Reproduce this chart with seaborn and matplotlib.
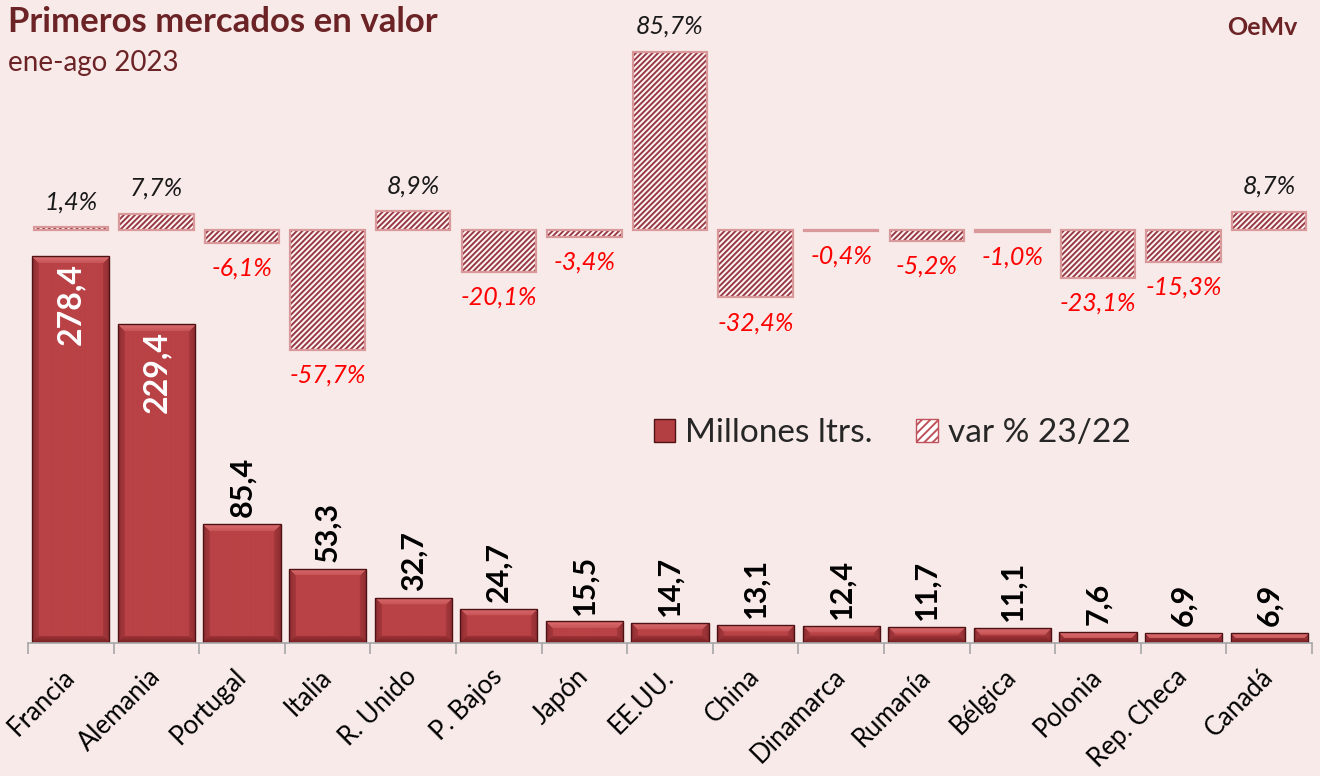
import numpy as np
import pandas as pd
import seaborn as sns
import matplotlib.pyplot as plt
from matplotlib.patches import Patch, Rectangle
from matplotlib.colors import to_rgb
from matplotlib.transforms import ScaledTranslation

paises = ["Francia", "Alemania", "Portugal", "Italia", "R. Unido", "P. Bajos", "Japón",
          "EE.UU.", "China", "Dinamarca", "Rumanía", "Bélgica", "Polonia", "Rep. Checa", "Canadá"]
millones = [278.4, 229.4, 85.4, 53.3, 32.7, 24.7, 15.5, 14.7, 13.1, 12.4, 11.7, 11.1, 7.6, 6.9, 6.9]
variacion = [1.4, 7.7, -6.1, -57.7, 8.9, -20.1, -3.4, 85.7, -32.4, -0.4, -5.2, -1.0, -23.1, -15.3, 8.7]

titulo = "Primeros mercados en valor"
subtitulo = "ene-ago 2023"
fuente = "OeMv"

BG = '#F8EAE9'
BAR = '#B43F43'
BAR_EDGE = '#4E1214'
HATCH = '#983844'
DARK = '#6B2326'


def fmt(v, pct=False):
    s = f"{v:.1f}".replace('.', ',')
    return s + '%' if pct else s


def bevel(wp, hp, b=7):
    # face colour with a lighter top bevel and darker sides/bottom
    face = np.array(to_rgb('#B94246'))
    cols = [to_rgb('#DA6C6E'), to_rgb('#7A2124'), to_rgb('#8E2D31'), to_rgb('#8E2D31')]
    yy, xx = np.mgrid[0:hp, 0:wp]
    d = np.stack([yy, hp - 1 - yy, xx, wp - 1 - xx])
    near = d.argmin(0)
    dmin = d.min(0)
    img = np.tile(face, (hp, wp, 1))
    for k, c in enumerate(cols):
        m = (near == k) & (dmin < b)
        f = (1 - dmin[m] / b)[:, None] * 0.6 + 0.4
        img[m] = face + (np.array(c) - face) * f
    return img


sns.set_theme(style="white")
plt.rcParams['font.family'] = ['Lato', 'DejaVu Sans']
plt.rcParams['hatch.linewidth'] = 1.4

df = pd.DataFrame({'pais': paises, 'millones': millones, 'var': variacion})

fig = plt.figure(figsize=(13.2, 7.76), dpi=100, facecolor=BG)
ax = fig.add_axes([28 / 1320, 133 / 776, 1284 / 1320, 603 / 776])
ax.set_facecolor('none')

# main bars (volume)
sns.barplot(data=df, x='pais', y='millones', color=BAR, width=0.9, saturation=1,
            edgecolor=BAR_EDGE, linewidth=1.0, ax=ax)
ax.set_xlim(-0.5, len(paises) - 0.5)
ax.set_ylim(0, 433.8)

# bevel shading drawn inside each bar
for p in list(ax.patches):
    x0, y0 = p.get_xy()
    x1, y1 = x0 + p.get_width(), y0 + p.get_height()
    (px0, py0), (px1, py1) = ax.transData.transform([(x0, y0), (x1, y1)])
    img = bevel(max(int(round(px1 - px0)), 2), max(int(round(py1 - py0)), 2))
    im = ax.imshow(img, extent=[x0, x1, y0, y1], aspect='auto', interpolation='bilinear',
                   zorder=p.get_zorder() - 0.1)
    im.set_clip_path(p)
    p.set_facecolor('none')
ax.set_xlim(-0.5, len(paises) - 0.5)
ax.set_ylim(0, 433.8)

# variation bars on a twin axis
ax2 = ax.twinx()
sns.barplot(data=df, x='pais', y='var', color='#FBF5F3', width=0.87, saturation=1,
            edgecolor=HATCH, linewidth=0, hatch='//////', ax=ax2)
for p in list(ax2.patches):
    ax2.add_patch(Rectangle(p.get_xy(), p.get_width(), p.get_height(),
                            fill=False, ec='#D9999A', lw=1.6))
ax2.set_ylim(-198.6, 91.3)

# value labels
for i, v in enumerate(millones):
    if v > 200:
        ax.annotate(fmt(v), (i, v), xytext=(0, -5), textcoords='offset points', rotation=90,
                    ha='center', va='top', color='white', fontsize=23, fontweight='bold')
    else:
        ax.annotate(fmt(v), (i, v), xytext=(0, 5), textcoords='offset points', rotation=90,
                    ha='center', va='bottom', color='black', fontsize=22, fontweight='bold')

for i, v in enumerate(variacion):
    if v >= 0:
        ax2.annotate(fmt(v, True), (i, v), xytext=(0, 10), textcoords='offset points',
                     ha='center', va='bottom', color='#1A1A1A', fontsize=18, style='italic')
    else:
        ax2.annotate(fmt(v, True), (i, v), xytext=(0, -10), textcoords='offset points',
                     ha='center', va='top', color='#FF0000', fontsize=18, style='italic')

# axes styling
ax.set_xticks(range(len(paises)))
ax.set_xticklabels([])
ax.set_xticks(np.arange(-0.5, len(paises), 1), minor=True)
ax.tick_params(axis='x', which='major', bottom=True, length=0)
ax.tick_params(axis='x', which='minor', bottom=True, length=8, width=1.2, color='#A6A6A6')
ax.set_yticks([])
ax2.set_yticks([])
ax.set_xlabel('')
ax.set_ylabel('')
ax2.set_ylabel('')
for s in ['top', 'left', 'right']:
    ax.spines[s].set_visible(False)
ax.spines['bottom'].set_color('#A6A6A6')
ax.spines['bottom'].set_linewidth(1.2)
for s in ax2.spines.values():
    s.set_visible(False)

# category labels, rotated under each bar
lbl_tr = ax.get_xaxis_transform() + ScaledTranslation(0, -0.30, fig.dpi_scale_trans)
for i, name in enumerate(paises):
    ax.text(i, 0, name, transform=lbl_tr, rotation=45, rotation_mode='anchor',
            ha='right', va='center', fontsize=18.5, color='black')

# titles
fig.text(8 / 1320, 1 - 6 / 776, titulo, fontsize=25, fontweight='bold', color=DARK, ha='left', va='top')
fig.text(8 / 1320, 1 - 50 / 776, subtitulo, fontsize=20, color=DARK, ha='left', va='top')
fig.text(1298 / 1320, 1 - 16 / 776, fuente, fontsize=18, fontweight='bold', color=DARK, ha='right', va='top')

# legend
handles = [Patch(facecolor=BAR, edgecolor=BAR_EDGE, label='Millones ltrs.'),
           Patch(facecolor='white', edgecolor='#C05059', hatch='////', label='var % 23/22')]
fig.legend(handles=handles, loc='center', bbox_to_anchor=(0.676, 0.442), ncol=2, frameon=False,
           fontsize=24, handlelength=0.65, handleheight=0.7, columnspacing=1.3, handletextpad=0.3)

fig.savefig('out.png', dpi=100, facecolor=BG)
